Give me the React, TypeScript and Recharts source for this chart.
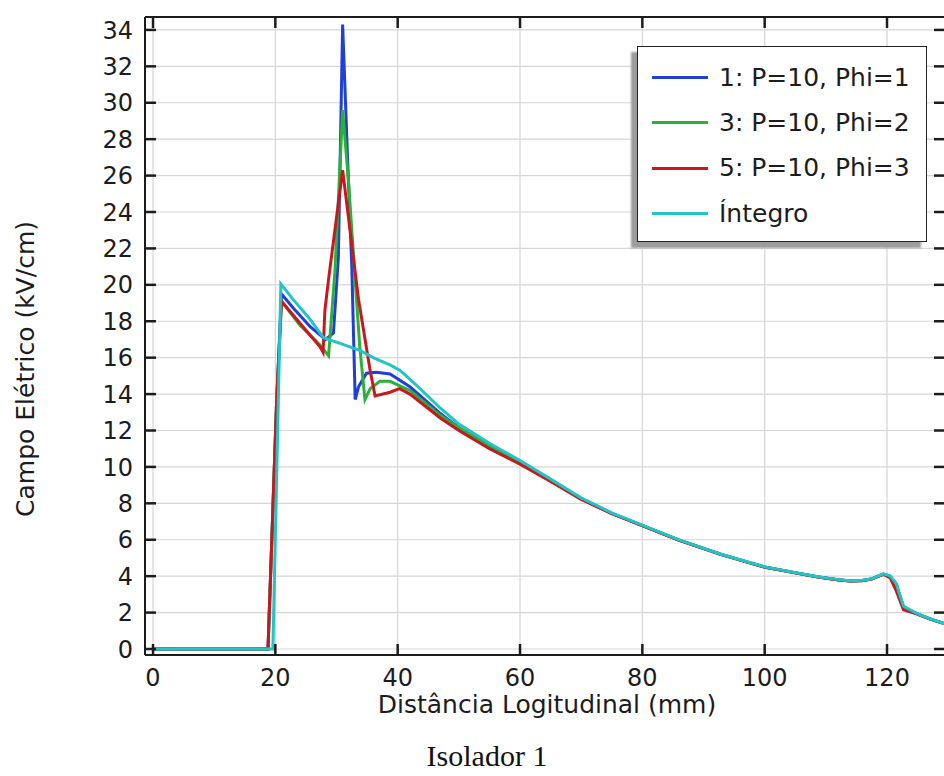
import { CartesianGrid, Legend, Line, LineChart, XAxis, YAxis } from "recharts";

const xTicks = [0, 20, 40, 60, 80, 100, 120];
const yTicks = [0, 2, 4, 6, 8, 10, 12, 14, 16, 18, 20, 22, 24, 26, 28, 30, 32, 34];

// first part of each curve (up to ~47 mm)
const blueX = [0, 18.8, 20.2, 21.0, 23.0, 25.7, 28.2, 29.5, 30.3, 31.0, 31.8, 32.5, 32.8, 33.05, 33.6, 34.9, 36.5, 38.75, 42, 46.9];
const blueY = [0, 0, 13.5, 19.5, 18.7, 17.7, 17.0, 17.35, 21.5, 34.3, 27.0, 21.0, 17.0, 13.7, 14.4, 15.15, 15.2, 15.1, 14.4, 12.95];

const greenX = [0, 18.8, 20.2, 21.0, 24.0, 27.3, 28.7, 29.75, 31.0, 32.0, 33.0, 33.8, 34.65, 35.5, 37.1, 38.75, 42, 46.9];
const greenY = [0, 0, 13.5, 19.1, 17.8, 16.7, 16.1, 20.8, 29.6, 25.5, 20.5, 16.6, 13.7, 14.3, 14.7, 14.7, 14.2, 12.85];

const redX = [0, 18.8, 20.2, 21.0, 24.0, 27.3, 27.8, 28.1, 28.7, 31.0, 33.6, 35.5, 36.3, 38.75, 40.3, 42, 46.9];
const redY = [0, 0, 13.5, 19.1, 17.9, 16.6, 16.3, 18.6, 20.3, 26.3, 19.2, 15.3, 13.9, 14.1, 14.3, 14.0, 12.7];

const cyanX = [0, 19.6, 20.9, 22.9, 25.7, 27.85, 30, 33.8, 36, 38.75, 40.4, 43, 46.9];
const cyanY = [0, 0, 20.05, 19.2, 18.1, 17.1, 16.85, 16.4, 16.0, 15.6, 15.3, 14.5, 13.25];

// the tail where the curves run together
const tailX = [50, 55, 60, 65, 70, 75, 80, 86, 93, 100, 104, 108.5, 112, 114, 116, 117.5, 119.4, 120.5, 121.5, 122.7, 124.8, 127, 129.5];
const tailY = [12.15, 11.15, 10.25, 9.25, 8.25, 7.45, 6.78, 5.98, 5.18, 4.5, 4.25, 3.97, 3.8, 3.74, 3.76, 3.85, 4.12, 4.0, 3.55, 2.3, 1.95, 1.65, 1.38];
const redTailY = [12.0, 11.0, 10.15, 9.2, 8.22, 7.43, 6.77, 5.97, 5.17, 4.49, 4.24, 3.96, 3.79, 3.73, 3.75, 3.84, 4.1, 3.92, 3.2, 2.15, 1.93, 1.64, 1.38];
const cyanTailY = [12.35, 11.3, 10.35, 9.33, 8.3, 7.48, 6.8, 5.99, 5.19, 4.51, 4.26, 3.98, 3.81, 3.75, 3.77, 3.86, 4.13, 4.02, 3.6, 2.35, 1.97, 1.66, 1.39];

const zip = (xs: number[], ys: number[]) => xs.map((x, i) => ({ x, y: ys[i] }));

const series = [
  { name: "1: P=10, Phi=1", color: "#1f3fd6", points: [...zip(blueX, blueY), ...zip(tailX, tailY)] },
  { name: "3: P=10, Phi=2", color: "#2cb03c", points: [...zip(greenX, greenY), ...zip(tailX, tailY)] },
  { name: "5: P=10, Phi=3", color: "#c8181e", points: [...zip(redX, redY), ...zip(tailX, redTailY)] },
  { name: "Íntegro", color: "#22c4c6", points: [...zip(cyanX, cyanY), ...zip(tailX, cyanTailY)] },
];

const FONT = "DejaVu Sans";
const INK = "#1c1c1c";
const TICK_LEN = 11;

const BottomTick = ({ x, y, payload }: any) => (
  <g>
    <line x1={x} x2={x} y1={y} y2={y - TICK_LEN} stroke={INK} strokeWidth={2.5} />
    <text x={x} y={y + 31} textAnchor="middle" fontFamily={FONT} fontSize={24} fill={INK}>
      {payload.value}
    </text>
  </g>
);

const TopTick = ({ x, y }: any) => (
  <line x1={x} x2={x} y1={y} y2={y + TICK_LEN} stroke={INK} strokeWidth={2.5} />
);

const LeftTick = ({ x, y, payload }: any) => (
  <g>
    <line x1={x} x2={x + TICK_LEN} y1={y} y2={y} stroke={INK} strokeWidth={2.5} />
    <text x={x - 12} y={y} dy="0.36em" textAnchor="end" fontFamily={FONT} fontSize={24} fill={INK}>
      {payload.value}
    </text>
  </g>
);

const RightTick = ({ x, y }: any) => (
  <line x1={x} x2={x - TICK_LEN} y1={y} y2={y} stroke={INK} strokeWidth={2.5} />
);

const LegendBox = ({ payload }: any) => (
  <div
    style={{
      width: 290,
      height: 196,
      boxSizing: "border-box",
      border: "1.5px solid #222",
      background: "#fff",
      boxShadow: "-6px 6px 2px #9c9c9c",
      paddingTop: 8,
    }}
  >
    {(payload ?? []).map((p: any) => (
      <div key={p.value} style={{ display: "flex", alignItems: "center", height: 45.3 }}>
        <span style={{ display: "inline-block", width: 56, height: 3, background: p.color, marginLeft: 14 }} />
        <span style={{ marginLeft: 11, fontFamily: FONT, fontSize: 25, color: INK, lineHeight: "30px" }}>
          {p.value}
        </span>
      </div>
    ))}
  </div>
);

const App = () => (
  <div
    style={{
      position: "absolute",
      left: 0,
      top: 0,
      width: 944,
      height: 776,
      overflow: "hidden",
      background: "#fff",
    }}
  >
    <LineChart width={950} height={776} margin={{ top: 16, right: 4, bottom: 61, left: 85 }}>
      <CartesianGrid stroke="#d6d6d6" strokeWidth={1.2} />
      <XAxis
        type="number"
        dataKey="x"
        domain={[-1.31, 129.48]}
        ticks={xTicks}
        interval={0}
        allowDataOverflow
        height={60}
        tickSize={0}
        tickMargin={0}
        tickLine={false}
        tick={BottomTick}
        axisLine={{ stroke: INK, strokeWidth: 2 }}
        label={({ viewBox }: any) => (
          <text
            x={viewBox.x + viewBox.width / 2 + 2}
            y={viewBox.y + 58}
            textAnchor="middle"
            fontFamily={FONT}
            fontSize={25}
            fill={INK}
          >
            Distância Logitudinal (mm)
          </text>
        )}
      />
      <XAxis
        xAxisId="top"
        orientation="top"
        type="number"
        dataKey="x"
        domain={[-1.31, 129.48]}
        ticks={xTicks}
        interval={0}
        allowDataOverflow
        height={1}
        tickSize={0}
        tickMargin={0}
        tickLine={false}
        tick={TopTick}
        axisLine={{ stroke: INK, strokeWidth: 2 }}
      />
      <YAxis
        type="number"
        domain={[-0.33, 34.71]}
        ticks={yTicks}
        interval={0}
        allowDataOverflow
        width={60}
        tickSize={0}
        tickMargin={0}
        tickLine={false}
        tick={LeftTick}
        axisLine={{ stroke: INK, strokeWidth: 2 }}
        label={({ viewBox }: any) => {
          const cy = viewBox.y + viewBox.height / 2 + 33;
          return (
            <text
              x={25}
              y={cy}
              transform={`rotate(-90, 25, ${cy})`}
              dy="0.36em"
              textAnchor="middle"
              fontFamily={FONT}
              fontSize={25}
              fill={INK}
            >
              Campo Elétrico (kV/cm)
            </text>
          );
        }}
      />
      <YAxis
        yAxisId="right"
        orientation="right"
        type="number"
        domain={[-0.33, 34.71]}
        ticks={yTicks}
        interval={0}
        allowDataOverflow
        width={1}
        tickSize={0}
        tickMargin={0}
        tickLine={false}
        tick={RightTick}
        axisLine={{ stroke: INK, strokeWidth: 2 }}
      />
      <Legend
        layout="vertical"
        align="center"
        verticalAlign="middle"
        content={LegendBox}
        wrapperStyle={{ left: 637, top: 46, width: 290, height: 196 }}
      />
      {series.map((s) => (
        <Line
          key={s.name}
          data={s.points}
          dataKey="y"
          name={s.name}
          type="linear"
          stroke={s.color}
          strokeWidth={3}
          dot={false}
          activeDot={false}
          isAnimationActive={false}
        />
      ))}
    </LineChart>
    <div
      style={{
        position: "absolute",
        left: 0,
        top: 741,
        width: 974,
        textAlign: "center",
        fontFamily: "Liberation Serif",
        fontSize: 30,
        lineHeight: "30px",
        color: "#111",
      }}
    >
      Isolador 1
    </div>
  </div>
);

export default App;
